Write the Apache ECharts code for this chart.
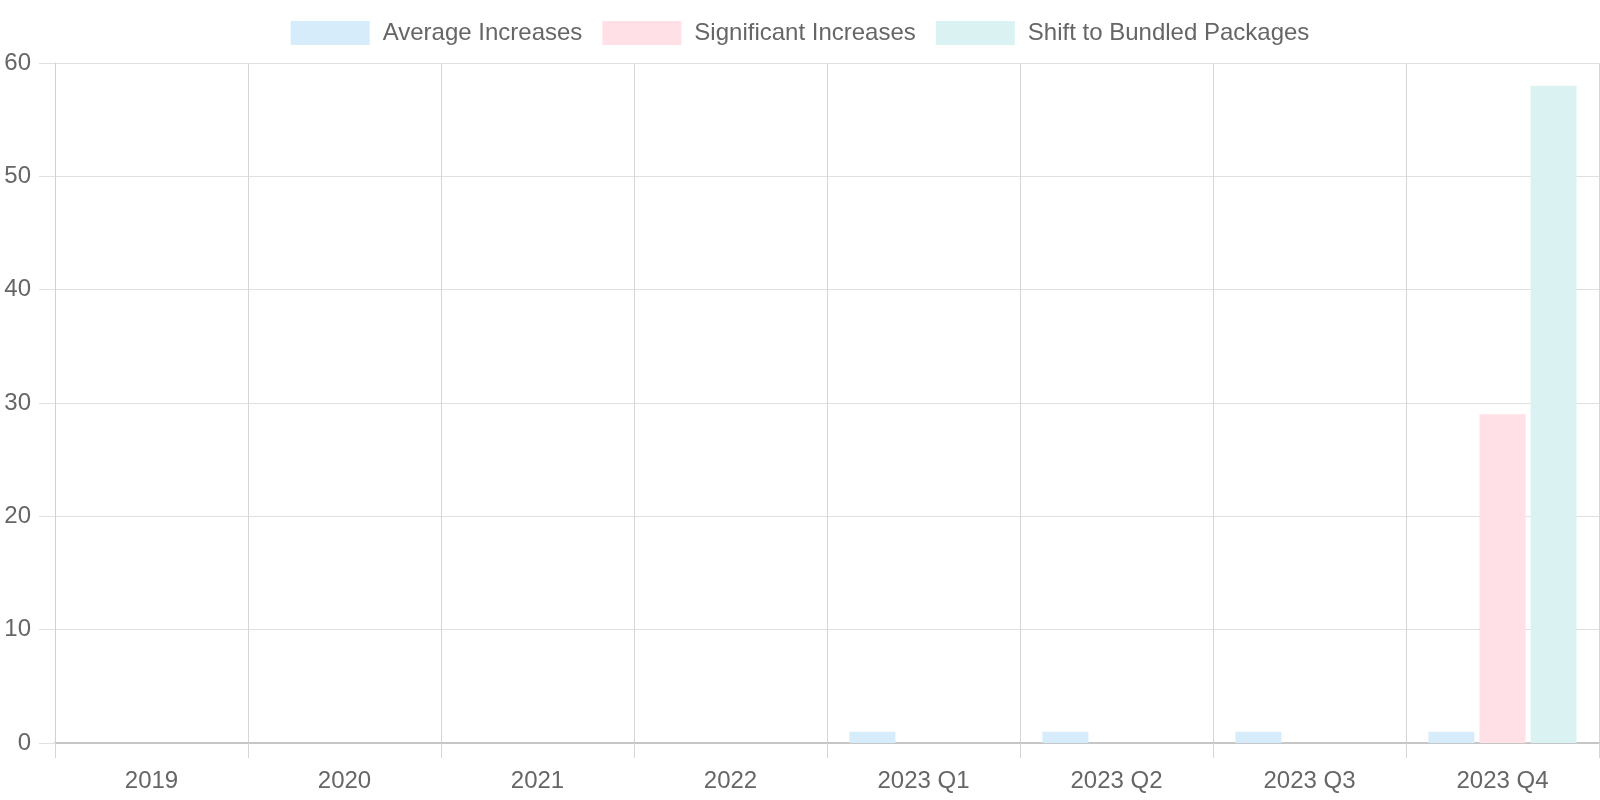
<!DOCTYPE html>
<html>
<head>
<meta charset="utf-8">
<script src="https://cdn.jsdelivr.net/npm/echarts@6/dist/echarts.min.js"></script>
<style>
  html, body { margin: 0; padding: 0; background: #fff; }
  #main { width: 1600px; height: 800px; }
</style>
</head>
<body>
<div id="main"></div>
<script>
var categories = ['2019', '2020', '2021', '2022', '2023 Q1', '2023 Q2', '2023 Q3', '2023 Q4'];
var averageIncreases = [0, 0, 0, 0, 1, 1, 1, 1];
var significantIncreases = [0, 0, 0, 0, 0, 0, 0, 29];
var bundledShift = [0, 0, 0, 0, 0, 0, 0, 58];
var seriesNames = ['Average Increases', 'Significant Increases', 'Shift to Bundled Packages'];
var colors = ['#d7ecfb', '#ffe0e6', '#dbf2f2'];

var font = '"Liberation Sans", Arial, sans-serif';
var chart = echarts.init(document.getElementById('main'));

function bar(name, data) {
  return {
    name: name,
    type: 'bar',
    barWidth: 46,
    barGap: '11%',
    data: data
  };
}

var option = {
  animation: false,
  color: colors,
  legend: {
    top: 16,
    left: 'center',
    itemWidth: 79,
    itemHeight: 24,
    itemGap: 20,
    icon: 'rect',
    textStyle: {
      fontFamily: font,
      fontSize: 24,
      color: '#666',
      padding: [0, 0, 0, 8]
    },
    data: seriesNames
  },
  grid: {
    left: 55,
    right: 1,
    top: 63,
    bottom: 57
  },
  xAxis: {
    type: 'category',
    data: categories,
    axisLine: { lineStyle: { color: '#c6c6c6', width: 2 } },
    axisTick: { show: true, length: 15, lineStyle: { color: '#d6d6d6' } },
    axisLabel: { fontFamily: font, fontSize: 24, color: '#666', margin: 26 },
    splitLine: { show: true, lineStyle: { color: '#d6d6d6' } }
  },
  yAxis: {
    type: 'value',
    min: 0,
    max: 60,
    interval: 10,
    axisLine: { show: true, lineStyle: { color: '#d0d0d0' } },
    axisTick: { show: true, length: 16, lineStyle: { color: '#e0e0e0' } },
    axisLabel: { fontFamily: font, fontSize: 24, color: '#666', margin: 24 },
    splitLine: { lineStyle: { color: '#e0e0e0' } }
  },
  series: [
    bar(seriesNames[0], averageIncreases),
    bar(seriesNames[1], significantIncreases),
    bar(seriesNames[2], bundledShift)
  ]
};

chart.setOption(option);
</script>
</body>
</html>
